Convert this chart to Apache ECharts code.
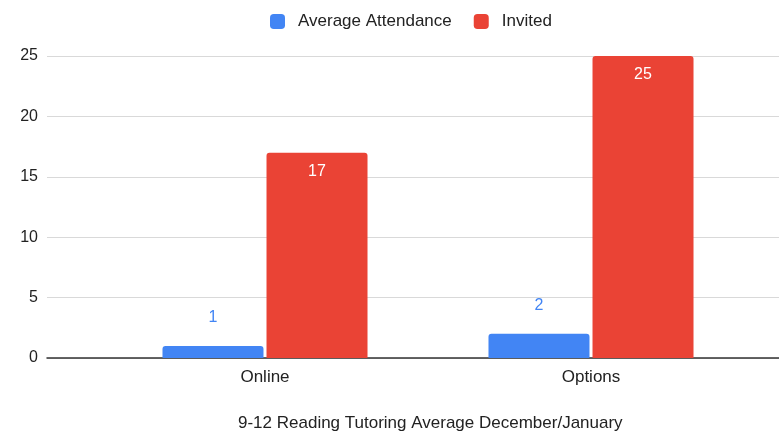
<!DOCTYPE html>
<html><head><meta charset="utf-8">
<script src="https://cdn.jsdelivr.net/npm/echarts@6/dist/echarts.min.js"></script>
<style>html,body{margin:0;padding:0;background:#fff}#c{width:779px;height:432px}</style>
</head><body><div id="c"></div>
<script>
const categories = ['Online', 'Options'];
const attendance = [1, 2];
const invited = [17, 25];
const yTicks = [0, 5, 10, 15, 20, 25];
const titleText = '9-12 Reading Tutoring Average December/January';

const chart = echarts.init(document.getElementById('c'));
const font = '"Liberation Sans", Arial, sans-serif';
chart.setOption({
  animation: false,
  textStyle: { fontFamily: font },
  legend: {
    top: 8, left: 265, itemWidth: 15, itemHeight: 15, itemGap: 22,
    icon: 'roundRect',
    textStyle: { fontSize: 17, color: '#222', fontFamily: font, padding: [0, 0, 0, 8] },
    data: ['Average Attendance', 'Invited']
  },
  title: {
    text: titleText, left: 233, top: 410,
    textStyle: { fontSize: 17, fontWeight: 'normal', color: '#222', fontFamily: font }
  },
  grid: [
    { left: 47, right: 0, top: 56, bottom: 74 },
    { left: 102, right: 25, top: 56, bottom: 74 }
  ],
  xAxis: [
    { gridIndex: 0, type: 'category', data: [''], axisLine: { lineStyle: { color: '#333', width: 1.5 } }, axisTick: { show: false }, axisLabel: { show: false } },
    { gridIndex: 1, type: 'category', data: categories, axisLine: { show: false }, axisTick: { show: false },
      axisLabel: { fontSize: 17, color: '#222', margin: 11, fontFamily: font } }
  ],
  yAxis: [
    { gridIndex: 0, type: 'value', min: yTicks[0], max: yTicks[yTicks.length - 1], interval: 5,
      axisLine: { show: false }, axisTick: { show: false },
      splitLine: { lineStyle: { color: '#d9d9d9', width: 1 } },
      axisLabel: { fontSize: 16, color: '#222', margin: 9, fontFamily: font } },
    { gridIndex: 1, type: 'value', min: yTicks[0], max: yTicks[yTicks.length - 1], interval: 5,
      show: false }
  ],
  series: [
    { name: 'Average Attendance', type: 'bar', xAxisIndex: 1, yAxisIndex: 1, data: attendance,
      barWidth: 101, barGap: '3%',
      itemStyle: { color: '#4285F4', borderRadius: [3, 3, 0, 0] },
      label: { show: true, position: 'top', distance: 20, color: '#4285F4', fontSize: 16, fontFamily: font } },
    { name: 'Invited', type: 'bar', xAxisIndex: 1, yAxisIndex: 1, data: invited,
      barWidth: 101,
      itemStyle: { color: '#EA4335', borderRadius: [3, 3, 0, 0] },
      label: { show: true, position: 'insideTop', distance: 11, color: '#fff', fontSize: 16, fontFamily: font } }
  ]
});
</script></body></html>
